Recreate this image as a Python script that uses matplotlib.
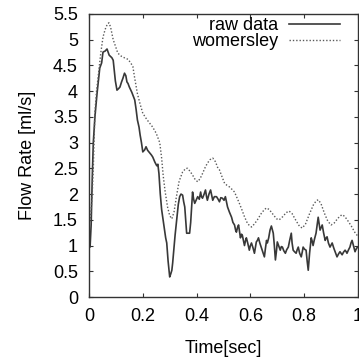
import matplotlib
matplotlib.use("Agg")
import matplotlib.pyplot as plt
from matplotlib.ticker import FuncFormatter, MultipleLocator

plt.rcParams["font.family"] = ["Liberation Sans", "DejaVu Sans"]

raw_t = [0.000, 0.004, 0.008, 0.012, 0.016, 0.022, 0.030, 0.040, 0.047, 0.052,
         0.060, 0.067, 0.075, 0.085, 0.090, 0.093, 0.098, 0.104, 0.110, 0.115,
         0.121, 0.126, 0.132, 0.137, 0.141, 0.145, 0.150, 0.159, 0.165, 0.170,
         0.175, 0.180, 0.186, 0.190, 0.195, 0.200, 0.207, 0.212, 0.218, 0.226,
         0.232, 0.237, 0.245, 0.252, 0.256, 0.260, 0.265, 0.270, 0.278, 0.285,
         0.289, 0.294, 0.300, 0.304, 0.308, 0.311, 0.315, 0.320, 0.326, 0.332,
         0.337, 0.342, 0.348, 0.352, 0.356, 0.360, 0.363, 0.370, 0.374, 0.378,
         0.381, 0.385, 0.389, 0.393, 0.398, 0.404, 0.410, 0.415, 0.418, 0.422,
         0.428, 0.433, 0.437, 0.440, 0.446, 0.452, 0.456, 0.460, 0.466, 0.474,
         0.480, 0.485, 0.490, 0.496, 0.502, 0.507, 0.511, 0.515, 0.522, 0.530,
         0.535, 0.541, 0.545, 0.548, 0.552, 0.556, 0.560, 0.563, 0.567, 0.570,
         0.574, 0.578, 0.582, 0.585, 0.590, 0.596, 0.600, 0.604, 0.610, 0.615,
         0.619, 0.622, 0.626, 0.630, 0.635, 0.640, 0.646, 0.652, 0.656, 0.660,
         0.663, 0.668, 0.673, 0.678, 0.682, 0.685, 0.689, 0.693, 0.697, 0.700,
         0.705, 0.711, 0.715, 0.719, 0.724, 0.730, 0.735, 0.741, 0.746, 0.752,
         0.755, 0.759, 0.764, 0.770, 0.774, 0.778, 0.783, 0.789, 0.793, 0.796,
         0.801, 0.807, 0.811, 0.815, 0.820, 0.826, 0.830, 0.833, 0.838, 0.844,
         0.848, 0.852, 0.856, 0.859, 0.863, 0.867, 0.872, 0.878, 0.881, 0.885,
         0.890, 0.896, 0.900, 0.904, 0.910, 0.915, 0.919, 0.922, 0.928, 0.933,
         0.937, 0.941, 0.946, 0.952, 0.956, 0.959, 0.965, 0.970, 0.974, 0.978,
         0.984, 0.989, 0.993, 0.998]
raw_q = [1.20, 0.97, 1.40, 2.30, 3.00, 3.50, 3.96, 4.45, 4.55, 4.76,
         4.78, 4.82, 4.70, 4.65, 4.60, 4.45, 4.20, 4.02, 4.05, 4.08,
         4.18, 4.25, 4.35, 4.30, 4.18, 4.15, 4.08, 3.98, 3.90, 3.83,
         3.65, 3.44, 3.30, 3.15, 3.00, 2.82, 2.86, 2.92, 2.85, 2.80,
         2.76, 2.72, 2.62, 2.55, 2.58, 2.40, 2.00, 1.70, 1.40, 1.15,
         1.05, 0.70, 0.39, 0.45, 0.52, 0.66, 0.90, 1.20, 1.50, 1.80,
         1.95, 2.00, 1.98, 1.85, 1.75, 1.45, 1.24, 1.24, 1.24, 1.45,
         1.70, 2.04, 1.90, 1.82, 1.88, 1.95, 1.90, 2.04, 1.95, 1.92,
         2.00, 2.08, 1.95, 1.88, 2.00, 2.08, 1.98, 1.88, 1.95, 1.95,
         1.90, 1.85, 1.93, 1.92, 1.88, 1.95, 1.85, 1.75, 1.65, 1.55,
         1.45, 1.40, 1.30, 1.26, 1.35, 1.40, 1.25, 1.15, 1.22, 1.20,
         1.10, 1.00, 1.10, 1.15, 1.05, 0.91, 1.00, 1.05, 0.95, 0.85,
         0.98, 1.07, 1.10, 1.15, 1.05, 0.97, 0.88, 0.78, 0.95, 1.10,
         1.05, 1.15, 1.30, 1.38, 1.30, 1.24, 1.00, 0.72, 0.90, 1.07,
         1.00, 0.91, 0.98, 0.97, 0.90, 0.85, 0.92, 0.97, 1.10, 1.24,
         1.05, 0.91, 0.88, 0.85, 0.92, 0.97, 0.85, 0.78, 0.88, 0.97,
         0.93, 0.91, 0.70, 0.52, 0.85, 1.15, 1.08, 1.00, 1.12, 1.24,
         1.40, 1.55, 1.40, 1.30, 1.35, 1.40, 1.25, 1.10, 1.14, 1.17,
         1.05, 0.97, 1.01, 1.05, 0.95, 0.88, 0.82, 0.78, 0.84, 0.88,
         0.85, 0.82, 0.87, 0.91, 0.88, 0.85, 0.92, 0.97, 1.05, 1.10,
         0.98, 0.88, 0.93, 0.97]

# womersley model curve
wom_t = [0.000, 0.006, 0.012, 0.016, 0.022, 0.028, 0.034, 0.044, 0.052, 0.060,
         0.068, 0.074, 0.080, 0.090, 0.100, 0.107, 0.120, 0.135, 0.145, 0.155,
         0.163, 0.170, 0.180, 0.190, 0.200, 0.215, 0.237, 0.250, 0.263, 0.270,
         0.276, 0.283, 0.292, 0.300, 0.308, 0.316, 0.325, 0.335, 0.348, 0.360,
         0.367, 0.376, 0.385, 0.395, 0.404, 0.413, 0.422, 0.432, 0.440, 0.450,
         0.460, 0.470, 0.478, 0.485, 0.495, 0.504, 0.513, 0.522, 0.532, 0.541,
         0.550, 0.559, 0.568, 0.578, 0.590, 0.604, 0.615, 0.626, 0.640, 0.652,
         0.660, 0.670, 0.685, 0.697, 0.707, 0.720, 0.733, 0.744, 0.755, 0.770,
         0.783, 0.793, 0.805, 0.820, 0.835, 0.845, 0.852, 0.862, 0.875, 0.888,
         0.900, 0.912, 0.925, 0.940, 0.950, 0.960, 0.975, 0.990, 1.000]
wom_q = [1.40, 1.55, 2.00, 2.50, 3.60, 4.00, 4.28, 4.75, 5.05, 5.20,
         5.30, 5.33, 5.25, 5.00, 4.85, 4.74, 4.68, 4.64, 4.62, 4.55,
         4.48, 4.25, 3.95, 3.75, 3.57, 3.45, 3.30, 3.18, 3.00, 2.70,
         2.35, 2.05, 1.75, 1.58, 1.52, 1.65, 1.95, 2.25, 2.43, 2.50,
         2.50, 2.44, 2.37, 2.28, 2.24, 2.30, 2.40, 2.52, 2.60, 2.67,
         2.70, 2.63, 2.52, 2.47, 2.33, 2.21, 2.17, 2.14, 2.09, 2.04,
         1.93, 1.82, 1.70, 1.56, 1.42, 1.36, 1.42, 1.50, 1.62, 1.70,
         1.73, 1.70, 1.60, 1.52, 1.50, 1.56, 1.64, 1.67, 1.62, 1.48,
         1.37, 1.34, 1.42, 1.62, 1.80, 1.87, 1.89, 1.82, 1.63, 1.47,
         1.40, 1.44, 1.53, 1.60, 1.57, 1.50, 1.38, 1.24, 1.18]

fig = plt.figure(figsize=(3.59, 3.58), dpi=100)
ax = fig.add_axes([89 / 359, 1 - 297 / 358, 269 / 359, 283 / 358])

ax.plot(raw_t, raw_q, color="#383838", lw=1.2, label="raw data")
ax.plot(wom_t, wom_q, color="#5a5a5a", lw=1.0, ls=(0, (1, 1.4)), label="womersley")

ax.set_xlim(0, 1)
ax.set_ylim(0, 5.5)
ax.xaxis.set_major_locator(MultipleLocator(0.2))
ax.yaxis.set_major_locator(MultipleLocator(0.5))
fmt = FuncFormatter(lambda v, _: f"{v:g}")
ax.xaxis.set_major_formatter(fmt)
ax.yaxis.set_major_formatter(fmt)
ax.tick_params(direction="in", length=3, width=0.8, color="#333333",
               top=True, right=True, labelsize=13, pad=8)
for s in ax.spines.values():
    s.set_color("#333333")
    s.set_linewidth(1.0)

ax.set_xlabel("Time[sec]", fontsize=13, labelpad=11)
ax.set_ylabel("Flow Rate [ml/s]", fontsize=13, labelpad=12)

leg = ax.legend(loc="upper right", bbox_to_anchor=(0.933, 0.988), frameon=False,
                markerfirst=False, fontsize=13, borderpad=0, borderaxespad=0,
                handlelength=2.8, handletextpad=0.6, labelspacing=-0.08)
for col in leg._legend_handle_box.get_children():
    col.align = "right"

fig.savefig("out.png", dpi=100)
